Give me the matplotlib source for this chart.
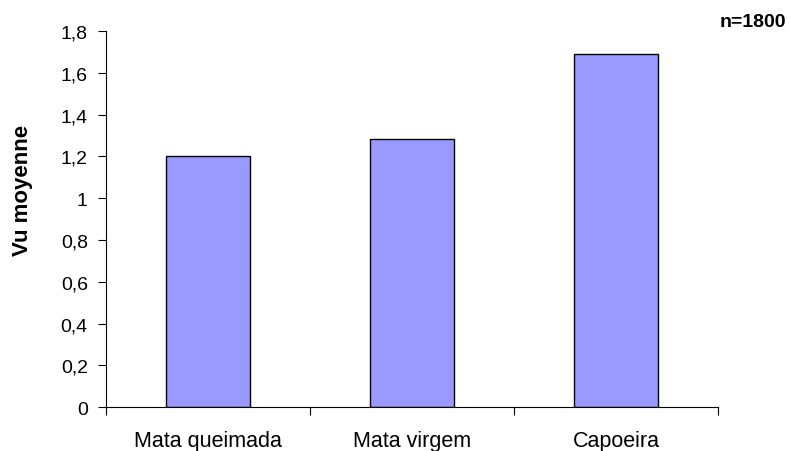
import numpy as np
import matplotlib.pyplot as plt
from matplotlib.ticker import FuncFormatter

# Data
categories = ['Mata queimada', 'Mata virgem', 'Capoeira']
values = [1.20, 1.285, 1.69]

plt.rcParams['font.family'] = ['Liberation Sans', 'DejaVu Sans']

fig = plt.figure(figsize=(7.9, 4.52), dpi=100)
ax = fig.add_axes([0.134, 0.097, 0.775, 0.832])

x = np.arange(len(categories))
ax.bar(x, values, width=0.41, color='#9999FF', edgecolor='black', linewidth=1)

# Excel-style axes: ticks between categories, labels centred under bars
ax.set_xlim(-0.5, len(categories) - 0.5)
ax.set_xticks(np.arange(len(categories) + 1) - 0.5)
ax.set_xticklabels([])
ax.set_xticks(x, minor=True)
ax.set_xticklabels(categories, minor=True, fontsize=15.5)
ax.tick_params(axis='x', which='minor', length=0, pad=16.5)
ax.tick_params(axis='x', which='major', length=6, direction='out')

ax.set_ylim(0, 1.8)
ax.set_yticks(np.arange(0, 1.81, 0.2))
ax.yaxis.set_major_formatter(FuncFormatter(lambda v, p: ('%g' % round(v, 1)).replace('.', ',')))
ax.tick_params(axis='y', length=6, direction='out', labelsize=14, pad=7)

ax.spines['top'].set_visible(False)
ax.spines['right'].set_visible(False)

ax.set_ylabel('Vu moyenne', fontsize=16, fontweight='bold')
ax.yaxis.set_label_coords(-0.119, 0.58)

fig.text(0.995, 0.95, 'n=1800', ha='right', va='center', fontsize=14, fontweight='bold')

fig.savefig('out.png', dpi=100)
